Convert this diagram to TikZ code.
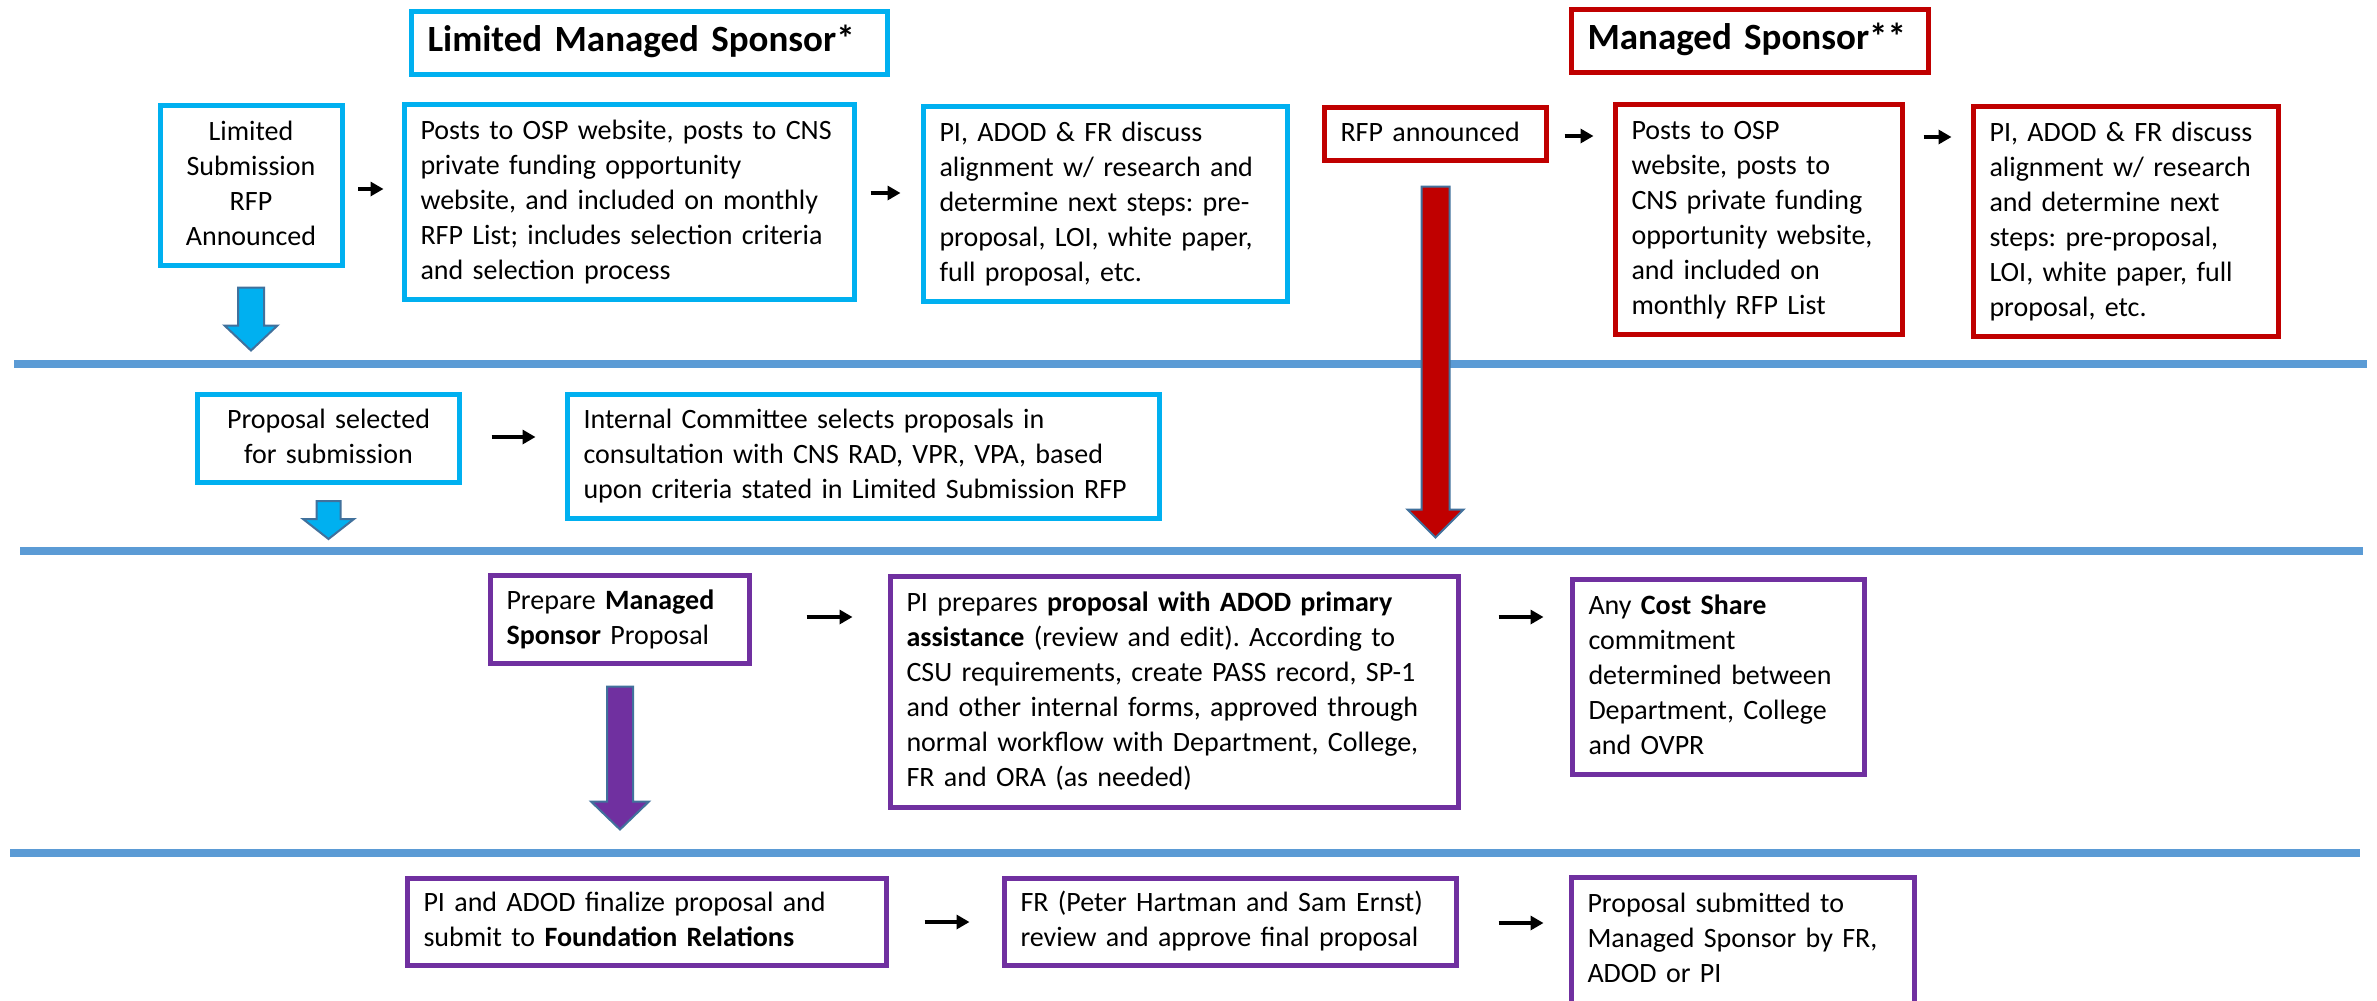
\documentclass[tikz,border=0pt]{standalone}
\usepackage{fontspec}
\setmainfont{Carlito}
\frenchspacing
\usetikzlibrary{arrows.meta,calc}
\definecolor{cyanb}{HTML}{00B0F0}
\definecolor{redb}{HTML}{C00000}
\definecolor{purpb}{HTML}{7030A0}
\definecolor{sepblue}{HTML}{5B9BD5}
\definecolor{outl}{HTML}{41719C}
\newcommand{\blockarrow}[7]{%
  \draw[barrow, fill=#7]
    ($(#1)+(-#4,#2)$) -- ($(#1)+(#4,#2)$) -- ($(#1)+(#4,#2+#3-#6)$) --
    ($(#1)+(#5,#2+#3-#6)$) -- ($(#1)+(0,#2+#3)$) -- ($(#1)+(-#5,#2+#3-#6)$) --
    ($(#1)+(-#4,#2+#3-#6)$) -- cycle;}
\begin{document}
\begin{tikzpicture}[x=1pt,y=-1pt,
  box/.style={draw, line width=5pt, fill=white, inner xsep=16pt, inner ysep=0pt,
    align=left, font=\fontsize{28}{35}\selectfont\frenchspacing,
    execute at begin node=\strut, execute at end node=\strut},
  cbox/.style={box, draw=cyanb},
  rbox/.style={box, draw=redb},
  pbox/.style={box, draw=purpb},
  titlefont/.style={font=\bfseries\fontsize{37}{44}\selectfont},
  arr/.style={-{Triangle[length=13pt,width=14pt]}, line width=3.5pt},
  sep/.style={draw=sepblue, line width=8pt},
  barrow/.style={draw=outl, line width=2pt, line join=miter}
]
\useasboundingbox (0,0) rectangle (2377,1001);
\clip (0,0) rectangle (2377,1001);
\fill[white] (0,0) rectangle (2377,1001);

% separators
\draw[sep] (14,364) -- (2367,364);
\draw[sep] (20,551) -- (2363,551);
\draw[sep] (10,853) -- (2360,853);

% Limited managed sponsor (cyan)
\node[cbox, titlefont, minimum width=476pt, minimum height=63pt, text width=444pt] (t1) at (649.5,43) {\mbox{Limited Managed Sponsor*}};
\node[cbox, align=center, minimum width=177pt, minimum height=160pt, text width=150pt] (lsra) at (251,185.5) {Limited\\Submission\\RFP\\Announced};
\node[cbox, minimum width=450pt, minimum height=195pt, text width=418pt] (posts1) at (629.5,202) {Posts to OSP website, posts to CNS\\private funding opportunity\\website, and included on monthly\\RFP List; includes selection criteria\\and selection process};
\node[cbox, minimum width=364pt, minimum height=195pt, text width=332pt] (pi1) at (1105.5,204) {PI, ADOD \& FR discuss\\alignment w/ research and\\determine next steps: pre-\\proposal, LOI, white paper,\\full proposal, etc.};
\node[cbox, align=center, minimum width=260pt, minimum height=88pt, text width=230pt] (propsel) at (328.5,438.5) {Proposal selected\\for submission};
\node[cbox, minimum width=592pt, minimum height=124pt, text width=560pt] (internal) at (863.5,456.5) {Internal Committee selects proposals in\\consultation with CNS RAD, VPR, VPA, based\\upon criteria stated in Limited Submission RFP};

% Managed sponsor (red)
\node[rbox, titlefont, minimum width=357pt, minimum height=63pt, text width=325pt] (t2) at (1750,41) {\mbox{Managed Sponsor**}};
\node[rbox, minimum width=222pt, minimum height=53pt, text width=190pt] (rfp) at (1435.5,134) {RFP announced};
\node[rbox, minimum width=287pt, minimum height=230pt, text width=255pt] (posts2) at (1759,219.5) {Posts to OSP\\website, posts to\\CNS private funding\\opportunity website,\\and included on\\monthly RFP List};
\node[rbox, minimum width=305pt, minimum height=230pt, text width=273pt] (pi2) at (2126,221.5) {PI, ADOD \& FR discuss\\alignment w/ research\\and determine next\\steps: pre-proposal,\\LOI, white paper, full\\proposal, etc.};

% purple
\node[pbox, minimum width=259pt, minimum height=88pt, text width=227pt] (prep) at (620,619.5) {Prepare \textbf{Managed}\\\textbf{Sponsor} Proposal};
\node[pbox, minimum width=568pt, minimum height=231pt, text width=536pt] (piprep) at (1174.5,692) {PI prepares \textbf{proposal with ADOD primary}\\\textbf{assistance} (review and edit). According to\\CSU requirements, create PASS record, SP-1\\and other internal forms, approved through\\normal workflow with Department, College,\\FR and ORA (as needed)};
\node[pbox, minimum width=292pt, minimum height=195pt, text width=260pt] (cost) at (1718.5,677) {Any \textbf{Cost Share}\\commitment\\determined between\\Department, College\\and OVPR};
\node[pbox, minimum width=479pt, minimum height=87pt, text width=447pt] (final) at (647,922) {PI and ADOD finalize proposal and\\submit to \textbf{Foundation Relations}};
\node[pbox, minimum width=452pt, minimum height=87pt, text width=420pt] (fr) at (1230.5,922) {FR (Peter Hartman and Sam Ernst)\\review and approve final proposal};
\node[pbox, minimum width=343pt, minimum height=126pt, text width=311pt] (subm) at (1743,940.5) {Proposal submitted to\\Managed Sponsor by FR,\\ADOD or PI};

% block arrows
\blockarrow{lsra.south}{19.5}{63}{13}{26.5}{25}{cyanb}
\blockarrow{propsel.south}{16}{38}{12}{25.5}{20}{cyanb}
\blockarrow{rfp.south}{23.5}{351}{14}{28}{28}{redb}
\blockarrow{prep.south}{20.5}{143}{13}{29}{28}{purpb}

% small black arrows
\coordinate (s1) at ([xshift=13.5pt,yshift=-3.5pt]lsra.east);
\draw[arr, shorten >=18.5pt] (s1) -- (s1 -| posts1.west);
\coordinate (s2) at ([xshift=13.5pt,yshift=9pt]posts1.east);
\draw[arr, shorten >=20.5pt] (s2) -- (s2 -| pi1.west);
\coordinate (s3) at ([xshift=15.5pt,yshift=-2pt]rfp.east);
\draw[arr, shorten >=19.5pt] (s3) -- (s3 -| posts2.west);
\coordinate (s4) at ([xshift=18.5pt,yshift=82.5pt]posts2.east);
\draw[arr, shorten >=19.5pt] (s4) -- (s4 -| pi2.west);
\coordinate (s5) at ([xshift=29.5pt,yshift=1.5pt]propsel.east);
\draw[arr, shorten >=29.5pt] (s5) -- (s5 -| internal.west);
\coordinate (s6) at ([xshift=54.5pt,yshift=2.5pt]prep.east);
\draw[arr, shorten >=35.5pt] (s6) -- (s6 -| piprep.west);
\coordinate (s7) at ([xshift=35.5pt]final.east);
\draw[arr, shorten >=32.5pt] (s7) -- (s7 -| fr.west);
\coordinate (s8) at ([xshift=37.5pt,yshift=75pt]piprep.east);
\draw[arr, shorten >=26.5pt] (s8) -- (s8 -| cost.west);
\coordinate (s9) at ([xshift=39.5pt,yshift=-1pt]fr.east);
\draw[arr, shorten >=25.5pt] (s9) -- (s9 -| subm.west);
\end{tikzpicture}
\end{document}
